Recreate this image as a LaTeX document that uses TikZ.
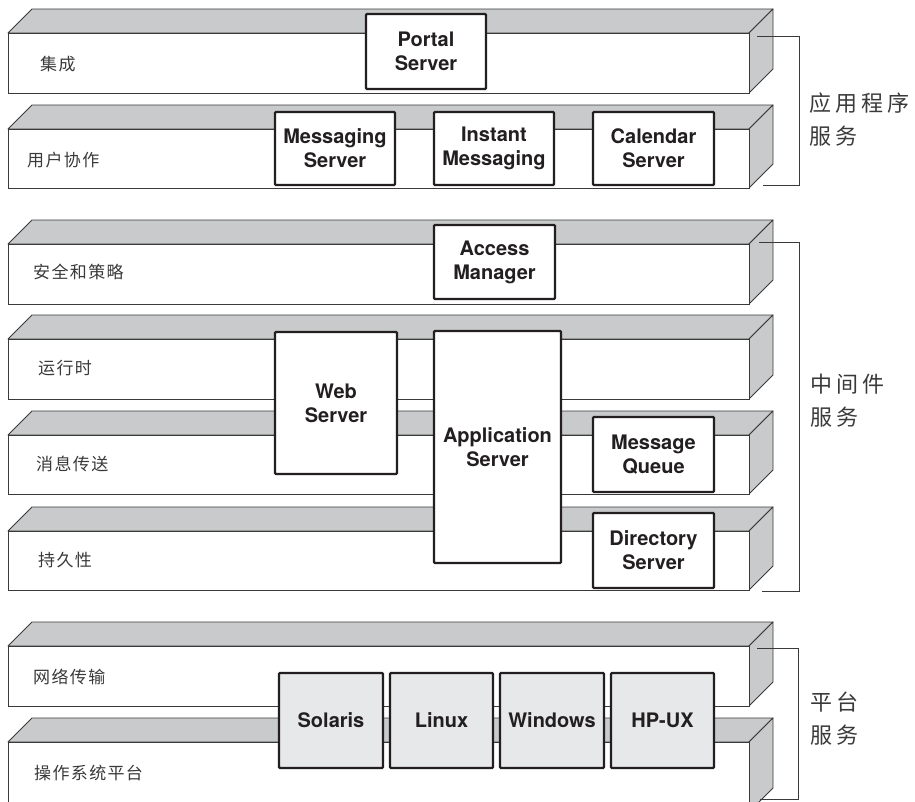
\documentclass[tikz,border=0pt]{standalone}
\usepackage{fontspec}
\setmainfont{TeX Gyre Heros}
\newfontfamily\cjkbig[LetterSpace=18]{Noto Sans CJK SC}
\newfontfamily\cjklayer[LetterSpace=8]{Noto Sans CJK SC}
\definecolor{slabgray}{HTML}{C9CACB}
\definecolor{osgray}{HTML}{E7E8E9}
\definecolor{ink}{HTML}{231F20}
\definecolor{edge}{HTML}{3A3A3A}
\newcommand{\drawslab}[2]{%
  \filldraw[slabface] (8,#1) -- (32,#1-24) -- (773,#1-24) -- (749,#1) -- cycle;
  \filldraw[slabface] (749,#1) -- (773,#1-24) -- (773,#2-24) -- (749,#2) -- cycle;
  \filldraw[frontface] (8,#1) rectangle (749,#2);
}
\begin{document}
\begin{tikzpicture}[x=1pt,y=-1pt,
  slabface/.style={fill=slabgray,draw=edge,line width=0.9pt,line join=round},
  frontface/.style={fill=white,draw=edge,line width=0.9pt},
  sbox/.style={draw=ink,line width=2.2pt,fill=white,rounded corners=1pt,inner sep=0pt,
    align=center,text=ink,font=\bfseries\fontsize{20}{24}\selectfont},
  osbox/.style={sbox,fill=osgray},
  layerlabel/.style={anchor=west,inner sep=0pt,text=edge,font=\cjklayer\fontsize{17}{20}\selectfont},
  grouplabel/.style={anchor=west,inner sep=0pt,align=left,text=edge,font=\cjkbig\fontsize{22}{33}\selectfont},
  bracket/.style={draw=edge,line width=1pt}]
\useasboundingbox (0,0) rectangle (915,801);
\clip (0,0) rectangle (915,801);

% slabs
\drawslab{33}{93}
\drawslab{129}{188}
\drawslab{244}{304}
\drawslab{339}{399}
\drawslab{435}{494}
\drawslab{531}{590}
\drawslab{646}{706}
\drawslab{742}{812}

% layer labels
\node[layerlabel] (l1) at (40,64) {集成};
\node[layerlabel] (l2) at (27,160) {用户协作};
\node[layerlabel] (l3) at (33,272) {安全和策略};
\node[layerlabel] (l4) at (38,368) {运行时};
\node[layerlabel] (l5) at (36,464) {消息传送};
\node[layerlabel] (l6) at (38,560) {持久性};
\node[layerlabel] (l7) at (33,677) {网络传输};
\node[layerlabel] (l8) at (34,773) {操作系统平台};

% component boxes
\node[sbox,minimum width=120,minimum height=75] (portal) at (426,51.5) {Portal\\Server};
\node[sbox,minimum width=120,minimum height=73] (msgsrv) at (335,148.5) {Messaging\\Server};
\node[sbox,minimum width=120,minimum height=73] (im) at (494,148.5) {Instant\\Messaging};
\node[sbox,minimum width=121,minimum height=73] (cal) at (653.5,148.5) {Calendar\\Server};
\node[sbox,minimum width=121,minimum height=74] (am) at (494.5,262) {Access\\Manager};
\node[sbox,minimum width=122,minimum height=142] (web) at (336,403) {Web\\Server};
\node[sbox,minimum width=127,minimum height=232] (app) at (497.5,447) {Application\\Server};
\node[sbox,minimum width=121,minimum height=75] (mq) at (653.5,454.5) {Message\\Queue};
\node[sbox,minimum width=121,minimum height=75] (dir) at (653.5,550.5) {Directory\\Server};
\node[osbox,minimum width=104,minimum height=95] (solaris) at (331,720.5) {Solaris};
\node[osbox,minimum width=103,minimum height=95] (linux) at (441.5,720.5) {Linux};
\node[osbox,minimum width=104,minimum height=95] (windows) at (552,720.5) {Windows};
\node[osbox,minimum width=103,minimum height=95] (hpux) at (662.5,720.5) {HP-UX};

% brackets
\coordinate (b1a) at (757,36);  \coordinate (b1b) at (763,185);
\coordinate (b2a) at (759,242); \coordinate (b2b) at (762,591);
\coordinate (b3a) at (757,648); \coordinate (b3b) at (760,799);
\draw[bracket] (b1a) -- (799,36) -- (799,185) -- (b1b);
\draw[bracket] (b2a) -- (799,242) -- (799,591) -- (b2b);
\draw[bracket] (b3a) -- (798,648) -- (798,799) -- (b3b);

% group labels
\node[grouplabel] (g1) at (809,120) {应用程序\\服务};
\node[grouplabel] (g2) at (810,400.5) {中间件\\服务};
\node[grouplabel] (g3) at (810,719) {平台\\服务};
\end{tikzpicture}
\end{document}
